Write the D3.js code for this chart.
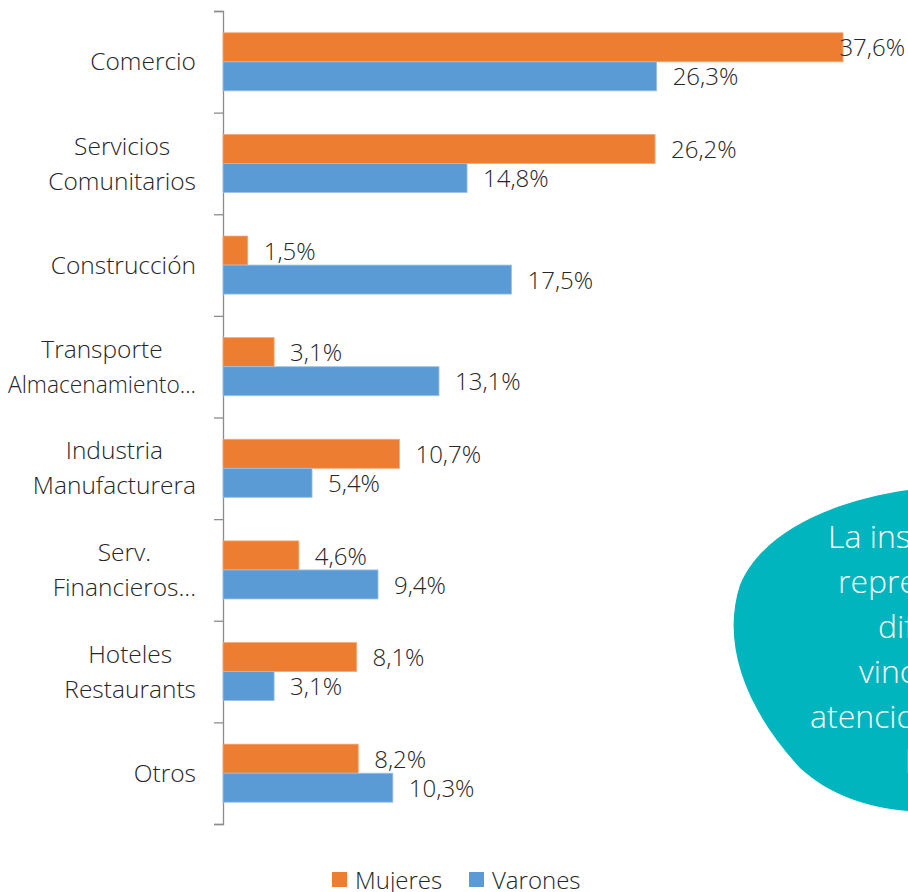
<!DOCTYPE html>
<html>
<head>
<meta charset="utf-8">
<script src="https://cdn.jsdelivr.net/npm/d3@7"></script>
<style>
  body { margin: 0; background: #fff; overflow: hidden; }
  svg text { font-family: "Open Sans", "Noto Sans", sans-serif; font-weight: 300; fill: #262626; }
</style>
</head>
<body>
<div id="chart"></div>
<script>
// data
const categories = ["Comercio", "Servicios Comunitarios", "Construcción", "Transporte Almacenamiento…",
  "Industria Manufacturera", "Serv. Financieros…", "Hoteles Restaurants", "Otros"];
const catLines = [["Comercio"], ["Servicios", "Comunitarios"], ["Construcción"], ["Transporte", "Almacenamiento..."],
  ["Industria", "Manufacturera"], ["Serv.", "Financieros..."], ["Hoteles", "Restaurants"], ["Otros"]];
const series = ["Mujeres", "Varones"];
const mujeres = [37.6, 26.2, 1.5, 3.1, 10.7, 4.6, 8.1, 8.2];
const varones = [26.3, 14.8, 17.5, 13.1, 5.4, 9.4, 3.1, 10.3];
const calloutLines = ["La inserción laboral", "representa", "diferencias", "vinculadas a la", "atenciones del hogar", "las"];

const W = 908, H = 892;
const colors = {Mujeres: "#ED7D31", Varones: "#5B9BD5"};
const strokes = {Mujeres: "#F4A777", Varones: "#9DC3E6"};

const svg = d3.select("#chart").append("svg")
  .attr("width", W).attr("height", H);

const x = d3.scaleLinear().domain([0, 40]).range([223, 223 + 40 * 16.49]);
const y = d3.scaleBand().domain(categories).range([11, 824]).padding(0);
const y1 = d3.scaleBand().domain(series).range([0, y.bandwidth()]).paddingOuter(0.75).paddingInner(0);
const yi = d3.scaleLinear().domain([0, categories.length]).range([11, 824]);

const rows = categories.map((c, i) => ({cat: c, lines: catLines[i], Mujeres: mujeres[i], Varones: varones[i]}));

// callout blob (behind chart), cut by the right edge as in the original
const blob = svg.append("g");
blob.append("path")
  .attr("d", "M 935 487 C 850 494, 765 525, 740 585 C 722 640, 742 705, 800 768 C 835 800, 880 812, 935 812 Z")
  .attr("fill", "#00B5BD");
const calloutX = [828, 838, 878, 859, 810, 905];
blob.selectAll("text").data(calloutLines).join("text")
  .attr("x", (d, i) => calloutX[i])
  .attr("y", (d, i) => 548 + i * 45)
  .style("fill", "#fff").style("font-size", "32px")
  .text(d => d);

// axis with ticks at band boundaries
const axis = svg.append("g")
  .attr("transform", "translate(223,0)")
  .call(d3.axisLeft(yi).ticks(categories.length).tickFormat("").tickSize(9).tickSizeOuter(9));
axis.selectAll("path, line").attr("stroke", "#8c8c8c").attr("stroke-width", 1.3);

// bars
const groups = svg.append("g").selectAll("g").data(rows).join("g")
  .attr("transform", d => `translate(0,${y(d.cat)})`);

groups.selectAll("rect").data(d => series.map(s => ({s, v: d[s]}))).join("rect")
  .attr("x", x(0))
  .attr("y", d => y1(d.s))
  .attr("width", d => x(d.v) - x(0))
  .attr("height", y1.bandwidth())
  .attr("fill", d => colors[d.s])
  .attr("stroke", d => strokes[d.s])
  .attr("stroke-width", 0.8);

// value labels
groups.selectAll("text.val").data(d => series.map(s => ({s, v: d[s]}))).join("text")
  .attr("class", "val")
  .attr("y", d => y1(d.s) + y1.bandwidth() / 2)
  .attr("dy", "0.38em")
  .style("font-size", "24px")
  .text(d => d3.format(".1f")(d.v).replace(".", ",") + "%")
  .attr("x", function(d) {
    const w = this.getComputedTextLength();
    return Math.min(x(d.v) + 16, W - 3 - w);
  });

// category labels, centered block, right-aligned to the axis
const catG = svg.append("g").selectAll("g").data(rows).join("g");
catG.each(function(d) {
  const g = d3.select(this);
  const n = d.lines.length;
  const cy = y(d.cat) + y.bandwidth() / 2;
  const t = g.selectAll("text").data(d.lines).join("text")
    .attr("text-anchor", "middle")
    .attr("y", (l, i) => cy + (i - (n - 1) / 2) * 35)
    .attr("dy", "0.35em")
    .style("font-size", "24.5px")
    .text(l => l);
  let maxW = 0;
  t.each(function() {
    let w = this.getComputedTextLength();
    if (w > 188) { d3.select(this).attr("textLength", 188).attr("lengthAdjust", "spacingAndGlyphs"); w = 188; }
    maxW = Math.max(maxW, w);
  });
  t.attr("x", 196 - maxW / 2);
});

// legend
const legend = svg.append("g").attr("transform", "translate(332,872)");
const legendX = [0, 137];
series.forEach((s, i) => {
  const lg = legend.append("g").attr("transform", `translate(${legendX[i]},0)`);
  lg.append("rect").attr("width", 15).attr("height", 15).attr("fill", colors[s]);
  lg.append("text").attr("x", 23).attr("y", 8).attr("dy", "0.38em")
    .style("font-size", "24px").text(s);
});
</script>
</body>
</html>
